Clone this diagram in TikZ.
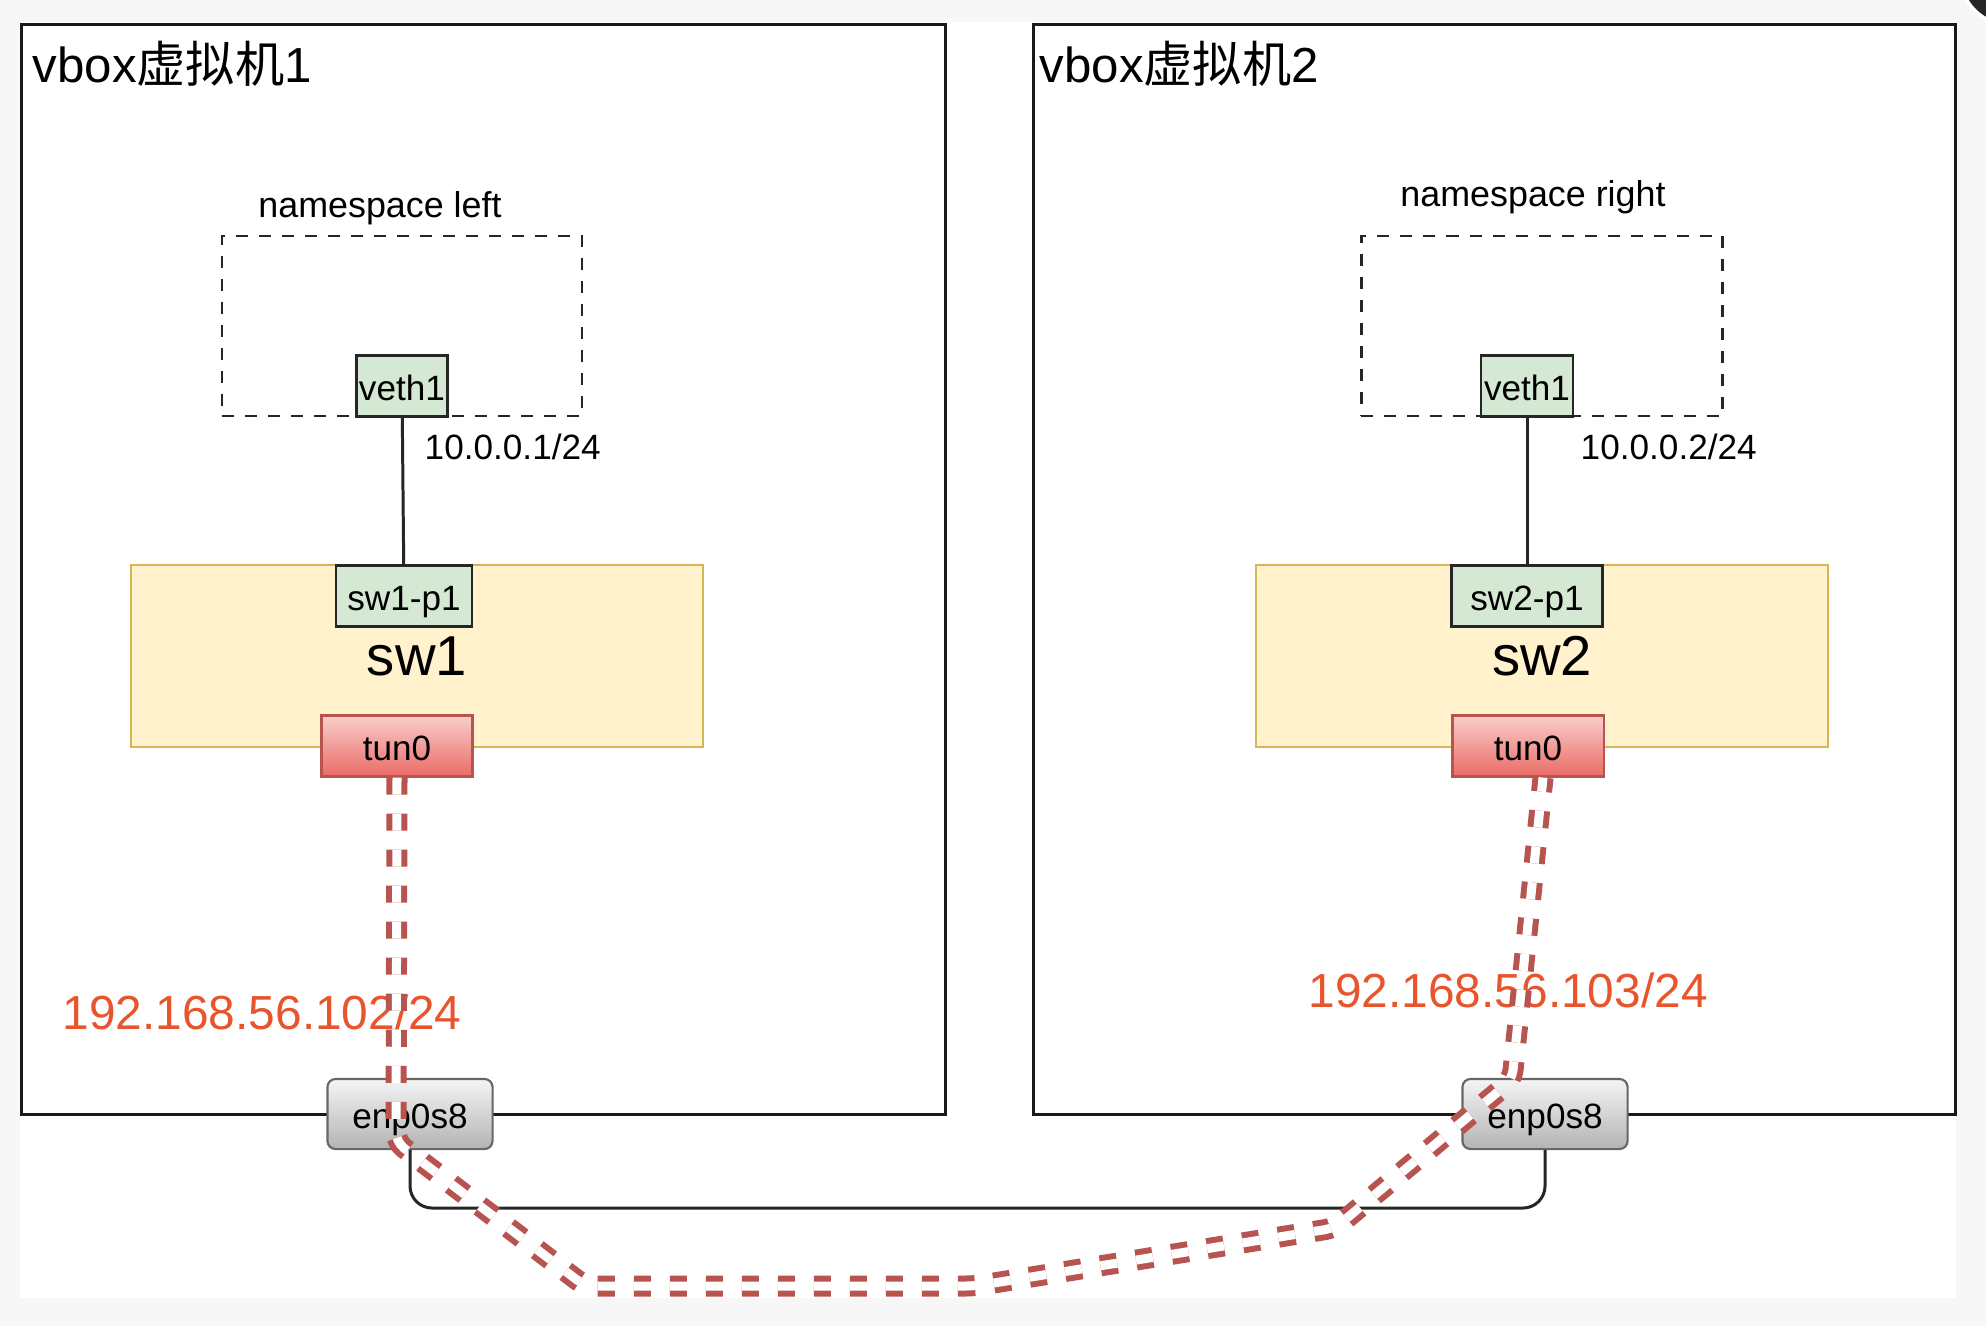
\documentclass[tikz,border=0pt]{standalone}
\usepackage{fontspec}
\setmainfont{Liberation Sans}
\newfontfamily\cjk{Noto Sans CJK SC}
\usepackage{tikz}
\usepackage{xcolor}
\definecolor{bggray}{RGB}{247,247,247}
\definecolor{nsgreen}{RGB}{213,232,212}
\definecolor{swfill}{RGB}{255,242,204}
\definecolor{swline}{RGB}{214,182,86}
\definecolor{tuntop}{RGB}{248,206,204}
\definecolor{tunbot}{RGB}{234,107,102}
\definecolor{tunline}{RGB}{184,84,80}
\definecolor{enptop}{RGB}{245,245,245}
\definecolor{enpbot}{RGB}{179,179,179}
\definecolor{enpline}{RGB}{102,102,102}
\definecolor{iporange}{RGB}{232,84,44}
\tikzstyle{vmbox} = [draw=black!90, line width=0.9pt, fill=white, anchor=north west]
\tikzstyle{nsbox} = [draw=black!85, line width=0.75pt, dash pattern=on 0.12cm off 0.11cm]
\tikzstyle{port} = [draw=black!85, line width=0.7pt, fill=nsgreen, inner sep=0pt, minimum height=0.61cm, text height=0.9em, text depth=0.1em, font=\fontsize{10}{12}\selectfont]
\tikzstyle{switch} = [draw=swline, line width=0.6pt, fill=swfill, minimum width=5.72cm, minimum height=1.82cm, font=\fontsize{16}{19}\selectfont]
\tikzstyle{tun} = [draw=tunline, line width=0.6pt, top color=tuntop, bottom color=tunbot, minimum width=1.51cm, minimum height=0.61cm, inner sep=0pt, text height=0.9em, text depth=0.1em, font=\fontsize{10}{12}\selectfont]
\tikzstyle{nic} = [draw=enpline, line width=0.6pt, top color=enptop, bottom color=enpbot, rounded corners=0.08cm, minimum width=1.65cm, minimum height=0.7cm, inner sep=0pt, text height=0.9em, text depth=0.1em, font=\fontsize{10}{12}\selectfont]
\tikzstyle{title} = [anchor=base west, inner sep=0pt, font=\fontsize{14}{17}\selectfont]
\tikzstyle{nslabel} = [anchor=base, inner sep=0pt, font=\fontsize{10.2}{12}\selectfont]
\tikzstyle{iplabel} = [anchor=base west, inner sep=0pt, font=\fontsize{10}{12}\selectfont]
\tikzstyle{hostip} = [anchor=base west, inner sep=0pt, text=iporange, font=\fontsize{13.6}{16}\selectfont]
\tikzstyle{wire} = [draw=black!85, line width=0.85pt]
\tikzstyle{tunnel} = [draw=tunline, line width=0.06cm, double=white, double distance=0.09cm, dash pattern=on 0.17cm off 0.19cm, rounded corners=0.1cm]

\begin{document}
\begin{tikzpicture}[x=0.01cm, y=-0.01cm]
% Canvas
\useasboundingbox[fill=bggray] (0,0) rectangle (1986,1326);
\fill[white] (20,22) rectangle (1956,1298);
\begin{scope}
\clip (0,0) rectangle (1986,1326);
\draw[white, line width=1pt, fill=black!85] (2010,-25) circle (0.5cm);
\end{scope}

% VM 1
\node[vmbox, minimum width=9.23cm, minimum height=10.89cm] (vm1) at (20,23) {};
\node[title] (vm1title) at (32,82) {vbox{\cjk 虚拟机}1};
\node[nsbox, minimum width=3.6cm, minimum height=1.8cm] (ns1) at (402,326) {};
\node[nslabel] (ns1label) at (380,217) {namespace left};
\node[switch] (sw1) at (417,656) {sw1};
\node[port, minimum width=0.91cm] (veth1l) at (402,386) {veth1};
\node[port, minimum width=1.36cm] (sw1p1) at (404,596) {sw1-p1};
\node[tun] (tun1) at (397,746) {tun0};
\node[iplabel] (ip1) at (424,459) {10.0.0.1/24};
\draw[wire] (veth1l) -- (sw1p1);

% VM 2
\node[vmbox, minimum width=9.21cm, minimum height=10.89cm] (vm2) at (1032,23) {};
\node[title] (vm2title) at (1039,82) {vbox{\cjk 虚拟机}2};
\node[nsbox, minimum width=3.61cm, minimum height=1.8cm] (ns2) at (1542,326) {};
\node[nslabel] (ns2label) at (1533,206) {namespace right};
\node[switch] (sw2) at (1542,656) {sw2};
\node[port, minimum width=0.92cm] (veth1r) at (1527,386) {veth1};
\node[port, minimum width=1.51cm] (sw2p1) at (1527,596) {sw2-p1};
\node[tun] (tun2) at (1528,746) {tun0};
\node[iplabel] (ip2) at (1580,459) {10.0.0.2/24};
\draw[wire] (veth1r) -- (sw2p1);

% Host link
\node[nic] (enp1) at (410,1114) {enp0s8};
\node[nic] (enp2) at (1545,1114) {enp0s8};
\coordinate (bus) at (980,1208);
\draw[wire, rounded corners=0.22cm] (enp1.south) |- (bus) -| (enp2.south);
\node[hostip] (host1ip) at (62,1029) {192.168.56.102/24};
\node[hostip] (host2ip) at (1308,1007) {192.168.56.103/24};

% Tunnel
\draw[tunnel] (tun1.south) -- (396,1142) -- (585,1286) -- (975,1286) -- (1335,1228) -- (1512,1080) -- ([xshift=0.15cm]tun2.south);
\end{tikzpicture}
\end{document}
